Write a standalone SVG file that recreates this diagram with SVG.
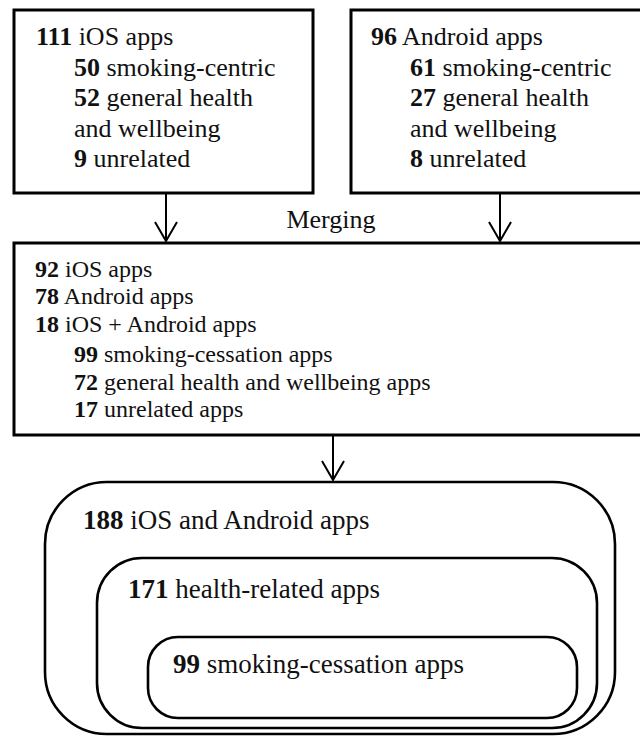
<svg xmlns="http://www.w3.org/2000/svg" width="640" height="736" viewBox="0 0 640 736">
<style>
  .box { fill: #fff; stroke: #000; stroke-width: 3; }
  .rbox { fill: none; stroke: #000; stroke-width: 2.6; }
  .conn line, .conn polyline { fill: none; stroke: #000; stroke-width: 2; }
  .b { font-weight: bold; }
</style>
<rect width="640" height="736" fill="#fff"/>
<g font-family="'Liberation Serif', 'Times New Roman', serif" fill="#111">
<g id="ios-box" font-size="26">
  <rect class="box" x="14" y="10" width="299" height="183"/>
  <text x="36" y="45"><tspan class="b">111</tspan> iOS apps</text>
  <text x="74" y="76"><tspan class="b">50</tspan> smoking-centric</text>
  <text x="74" y="106"><tspan class="b">52</tspan> general health</text>
  <text x="74" y="137">and wellbeing</text>
  <text x="74" y="167"><tspan class="b">9</tspan> unrelated</text>
</g>
<g id="android-box" font-size="26">
  <rect class="box" x="351" y="10" width="310" height="183"/>
  <text x="371" y="45"><tspan class="b">96</tspan> Android apps</text>
  <text x="410" y="76"><tspan class="b">61</tspan> smoking-centric</text>
  <text x="410" y="106"><tspan class="b">27</tspan> general health</text>
  <text x="410" y="137">and wellbeing</text>
  <text x="410" y="167"><tspan class="b">8</tspan> unrelated</text>
</g>
<g id="merged-box" font-size="24">
  <rect class="box" x="14" y="243" width="650" height="192"/>
  <text x="35" y="277"><tspan class="b">92</tspan> iOS apps</text>
  <text x="35" y="304"><tspan class="b">78</tspan> Android apps</text>
  <text x="35" y="332"><tspan class="b">18</tspan> iOS + Android apps</text>
  <text x="74" y="362"><tspan class="b">99</tspan> smoking-cessation apps</text>
  <text x="74" y="390"><tspan class="b">72</tspan> general health and wellbeing apps</text>
  <text x="74" y="417"><tspan class="b">17</tspan> unrelated apps</text>
</g>
<g id="all-apps" font-size="27">
  <rect class="rbox" x="45" y="482" width="570" height="252" rx="62" ry="62"/>
  <text x="83" y="529"><tspan class="b">188</tspan> iOS and Android apps</text>
</g>
<g id="health-apps" font-size="27">
  <rect class="rbox" x="97" y="558" width="500" height="170" rx="45" ry="45"/>
  <text x="128" y="598"><tspan class="b">171</tspan> health-related apps</text>
</g>
<g id="cessation-apps" font-size="27">
  <rect class="rbox" x="148" y="637" width="429" height="81" rx="30" ry="30"/>
  <text x="173" y="673"><tspan class="b">99</tspan> smoking-cessation apps</text>
</g>
<g id="connectors" class="conn">
  <line x1="166" y1="193" x2="166" y2="241"/>
  <polyline points="155,222 166,241 177,222"/>
  <line x1="500" y1="193" x2="500" y2="241"/>
  <polyline points="489,222 500,241 511,222"/>
  <text x="331" y="228" font-size="26" text-anchor="middle">Merging</text>
  <line x1="333" y1="435" x2="333" y2="480"/>
  <polyline points="322,461 333,480 344,461"/>
</g>
</g>
</svg>
